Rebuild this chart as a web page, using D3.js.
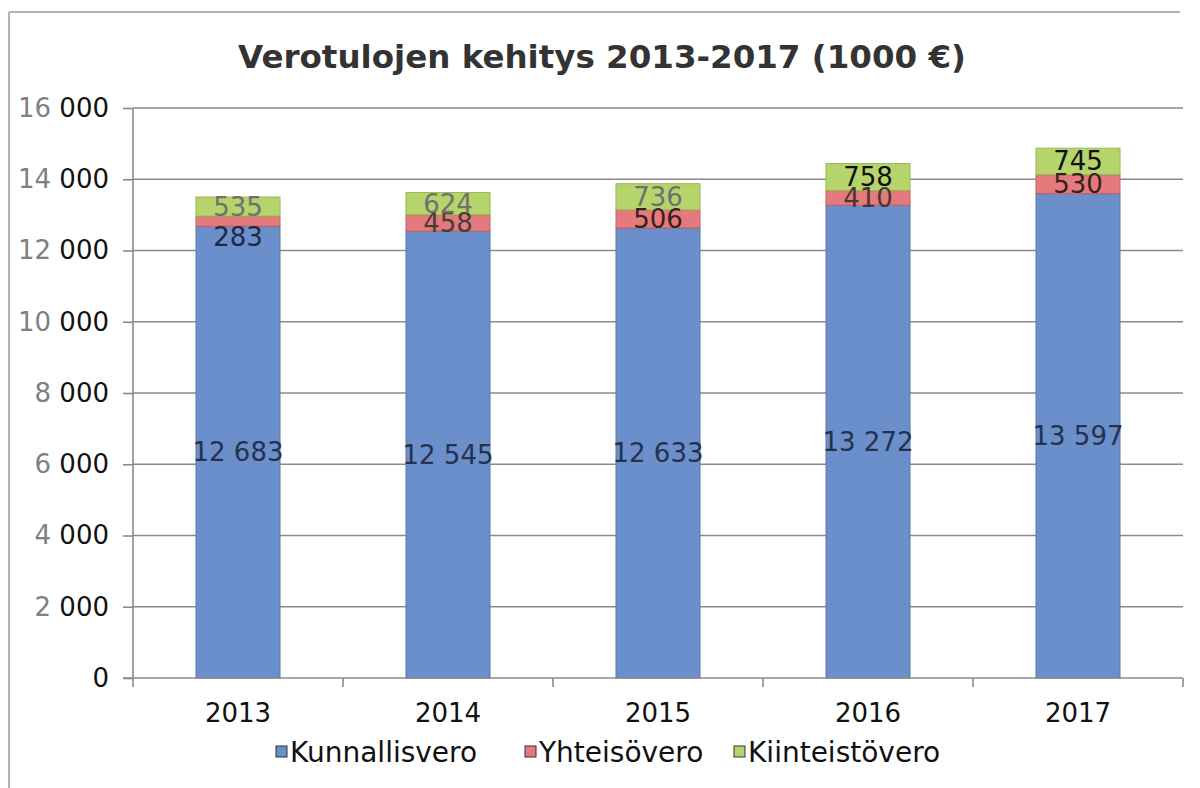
<!DOCTYPE html>
<html lang="fi">
<head>
<meta charset="UTF-8">
<title>Verotulojen kehitys 2013-2017</title>
<script src="https://d3js.org/d3.v7.min.js"></script>
<style>
html,body{margin:0;padding:0;background:#fff}
svg{display:block;font-family:"DejaVu Sans",Verdana,sans-serif}
.grid line{stroke:#8a8a8a;stroke-width:1.6}
.axis path,.axis line{stroke:#8a8a8a;stroke-width:1.6}
.axis text{font-size:26px;font-family:"DejaVu Sans",Verdana,sans-serif}
.seg-label{font-size:26px;text-anchor:middle;dominant-baseline:central}
.legend text{font-size:28px;fill:#111}
</style>
</head>
<body>
<svg id="chart" width="1200" height="788"></svg>
<script>
// ── data ──
var years = ['2013', '2014', '2015', '2016', '2017'];
var kunnallisvero = [12683, 12545, 12633, 13272, 13597];
var yhteisovero = [283, 458, 506, 410, 530];
var kiinteistovero = [535, 624, 736, 758, 745];
var seriesNames = ['Kunnallisvero', 'Yhteisövero', 'Kiinteistövero'];
var yTicks = [0, 2000, 4000, 6000, 8000, 10000, 12000, 14000, 16000];

var colors = ['#6a8fca', '#e47a7b', '#b6d46c'];
var edge = ['#5677b0', '#c86060', '#98b850'];
var labelColors = [
  ['#26324d', '#26324d', '#26324d', '#26324d', '#26324d'],
  ['#1e2a44', '#4a3a3a', '#3a2020', '#4a3535', '#3a2020'],
  ['#707070', '#707070', '#707070', '#111111', '#111111']
];

var svg = d3.select('#chart');
var margin = { left: 133, right: 1183, top: 108, bottom: 678 };

// frame (top and left edge of the chart area)
svg.append('line').attr('x1', 9).attr('x2', 1180).attr('y1', 12).attr('y2', 12)
  .attr('stroke', '#9a9a9a').attr('stroke-width', 1.5);
svg.append('line').attr('x1', 9).attr('x2', 9).attr('y1', 12).attr('y2', 788)
  .attr('stroke', '#9a9a9a').attr('stroke-width', 1.5);

svg.append('text')
  .attr('x', 602).attr('y', 68)
  .attr('text-anchor', 'middle')
  .attr('font-size', 32.5).attr('font-weight', 'bold').attr('fill', '#333')
  .text('Verotulojen kehitys 2013-2017 (1000 €)');

var x = d3.scaleBand().domain(years)
  .range([margin.left, margin.right])
  .paddingInner(0.6).paddingOuter(0.3);
var y = d3.scaleLinear().domain([0, 16000]).range([margin.bottom, margin.top]);

// gridlines
svg.append('g').attr('class', 'grid')
  .selectAll('line').data(yTicks.filter(function(t) { return t > 0; })).join('line')
  .attr('x1', margin.left).attr('x2', margin.right)
  .attr('y1', function(d) { return y(d); }).attr('y2', function(d) { return y(d); });

// stacked bars
var table = years.map(function(yr, i) {
  return { year: yr, k: kunnallisvero[i], yh: yhteisovero[i], ki: kiinteistovero[i] };
});
var stacked = d3.stack().keys(['k', 'yh', 'ki'])(table);

stacked.forEach(function(layer, si) {
  svg.append('g').selectAll('rect').data(layer).join('rect')
    .attr('x', function(d) { return x(d.data.year); })
    .attr('width', x.bandwidth())
    .attr('y', function(d) { return y(d[1]); })
    .attr('height', function(d) { return y(d[0]) - y(d[1]); })
    .attr('fill', colors[si])
    .attr('stroke', edge[si]).attr('stroke-width', 1);
});

// axes
var yAxis = svg.append('g').attr('class', 'axis')
  .attr('transform', 'translate(' + margin.left + ',0)')
  .call(d3.axisLeft(y).tickValues(yTicks).tickSize(10).tickPadding(14).tickFormat(''));
yAxis.attr('font-family', null).attr('font-size', null);
yAxis.select('.domain').attr('d', 'M0,' + margin.top + 'V' + margin.bottom);
yAxis.selectAll('.tick text').each(function(d) {
  var t = d3.select(this);
  if (d === 0) {
    t.append('tspan').attr('fill', '#111').text('0');
  } else {
    t.append('tspan').attr('fill', '#808080').text(String(d / 1000) + ' ');
    t.append('tspan').attr('fill', '#111').text('000');
  }
});

var xAxis = svg.append('g').attr('class', 'axis')
  .attr('transform', 'translate(0,' + margin.bottom + ')');
xAxis.append('line').attr('x1', margin.left - 10).attr('x2', margin.right);
var step = x.step();
xAxis.selectAll('.sep').data(d3.range(years.length + 1)).join('line')
  .attr('class', 'sep')
  .attr('x1', function(i) { return margin.left + i * step; })
  .attr('x2', function(i) { return margin.left + i * step; })
  .attr('y1', 0).attr('y2', 9);
xAxis.selectAll('text').data(years).join('text')
  .attr('x', function(d) { return x(d) + x.bandwidth() / 2; })
  .attr('y', 44).attr('text-anchor', 'middle').attr('fill', '#111')
  .text(function(d) { return d; });

// segment labels
var fmt = function(v) { return d3.format(',')(v).replace(/,/g, ' '); };
years.forEach(function(yr, i) {
  var cx = x(yr) + x.bandwidth() / 2;
  var pos = stacked.map(function(layer) { return y((layer[i][0] + layer[i][1]) / 2); });
  // push the middle label down when it would sit on the top one
  if (pos[1] - pos[2] < 18) pos[1] = pos[2] + 30;
  stacked.forEach(function(layer, si) {
    var v = layer[i][1] - layer[i][0];
    svg.append('text').attr('class', 'seg-label')
      .attr('x', cx).attr('y', pos[si])
      .attr('fill', labelColors[si][i])
      .text(fmt(v));
  });
});

// legend
var legend = svg.append('g').attr('class', 'legend').attr('transform', 'translate(0,752)');
var legendX = [276, 525, 734];
seriesNames.forEach(function(name, i) {
  legend.append('rect').attr('x', legendX[i]).attr('y', -6).attr('width', 11).attr('height', 11)
    .attr('fill', colors[i]).attr('stroke', '#333').attr('stroke-width', 1);
  legend.append('text').attr('x', legendX[i] + 14).attr('y', 10).text(name);
});
</script>
</body>
</html>
